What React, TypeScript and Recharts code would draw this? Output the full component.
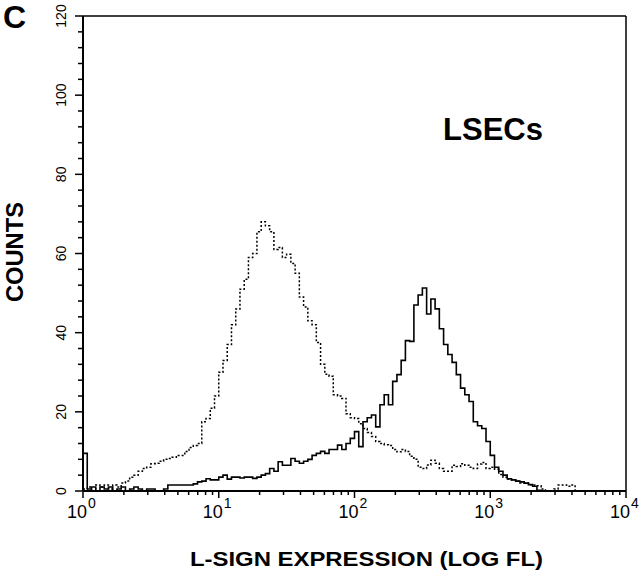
import React from 'react';
import { LineChart, Line, XAxis, YAxis, ReferenceLine } from 'recharts';

// FACS histogram: 256 channels over 4 log decades, one value read every 2 channels
const CHANNEL_STEP = 2;
const CHANNELS_PER_DECADE = 64;
const DECADE_EXPONENTS = ['0', '1', '2', '3', '4'];
const MINOR_MULTIPLIERS = [2, 3, 4, 5, 6, 7, 8, 9];
const COUNT_TICKS = [0, 4, 8, 12, 16, 20, 24, 28, 32, 36, 40, 44, 48, 52, 56, 60, 64, 68, 72, 76, 80, 84, 88, 92, 96, 100, 104, 108, 112, 116, 120];
const COUNT_LABELS = [0, 20, 40, 60, 80, 100, 120];

// isotype control (dotted)
const CONTROL = [
    0.5, 1, 0, 1.5, 1, 1.5, 0.5, 1.5, 1, 2,
    2.5, 3.5, 4, 5, 5.7, 6, 6.9, 7, 7.5, 8,
    8.2, 8.5, 9, 9, 10, 11, 11.5, 12, 17.5, 18.3,
    20.9, 24, 30, 33, 37, 42, 46, 51, 53.5, 59,
    60, 65.5, 68, 67, 65.5, 61, 61.5, 59, 59.8, 57.5,
    55, 49, 46.5, 43, 42, 37.5, 32, 29.5, 29, 24.3,
    24, 23.4, 19.5, 18.5, 18.3, 17, 15.8, 14.8, 13.8, 12.5,
    12, 11.7, 11.5, 10.5, 9.9, 10.5, 10, 8.8, 8, 6,
    5.7, 6.6, 7.8, 7, 5.7, 5, 5, 6.5, 6.2, 6.9,
    6.5, 6, 5.7, 6.8, 7.2, 5.7, 6, 5.5, 4.2, 3.5,
    3, 2.8, 2.5, 2, 2, 1.6, 1.5, 1.3, 0.5, 0,
    0, 0.5, 1.5, 1.5, 1.2, 1.5, 0, 0, 0, 0,
    0, 0, 0, 0, 0, 0, 0, 0
];

// L-SIGN staining (solid)
const LSEC = [
    9.5, 0.5, 1, 0, 1, 0.5, 1, 0, 0.5, 1,
    0, 0.5, 1, 0.5, 0, 0.5, 0.5, 0, 0, 0.5,
    1.5, 1.5, 1.5, 1.5, 1.5, 1.5, 1.8, 2.3, 2.5, 3.1,
    2.8, 2.8, 3.5, 4, 3, 3.5, 3.5, 3.3, 3.5, 3.5,
    3.2, 3.5, 4, 4.4, 5.7, 5, 7.4, 6.5, 6.5, 8.2,
    7.5, 7, 7.5, 8, 9, 9.5, 10, 9.5, 10.5, 10.5,
    11.6, 10.5, 12, 13.3, 15, 11.2, 17.5, 18.5, 19.2, 16.2,
    21.8, 24.3, 21.8, 27.7, 29.4, 33, 38, 37.8, 47, 49.5,
    51.3, 44.7, 48.5, 46, 41, 37, 34.5, 32.5, 29.4, 26,
    24.3, 22.6, 17.5, 16.5, 15.8, 12.5, 9, 6, 5, 4,
    3.1, 2.8, 2.5, 2.3, 2, 1.6, 1.2, 0.2, 0, 0,
    0, 0, 0, 0, 0, 0, 0, 0, 0, 0,
    0, 0, 0, 0, 0, 0, 0, 0
];

const data = LSEC.map((v, i) => ({ ch: i * CHANNEL_STEP, lsec: v, control: CONTROL[i] }));

const MAJOR_TICKS = DECADE_EXPONENTS.map((_, d) => d * CHANNELS_PER_DECADE);
const MINOR_TICKS = MAJOR_TICKS.slice(0, -1).flatMap(start =>
    MINOR_MULTIPLIERS.map(m => start + CHANNELS_PER_DECADE * Math.log10(m))
);
const X_TICKS = [...MAJOR_TICKS, ...MINOR_TICKS].sort((a, b) => a - b);

const FONT = 'Liberation Sans, Arial, Helvetica, sans-serif';

const XTick = (props: any) => {
    const { x, y, payload } = props;
    const idx = MAJOR_TICKS.indexOf(payload.value);
    const major = idx >= 0;
    return (
        <g>
            <line x1={x} y1={y} x2={x} y2={y + (major ? 7 : 4)} stroke="#000" strokeWidth={1.5} />
            {major && (
                <>
                    <text x={x + 4} y={y + 27} textAnchor="end" fontSize={18} fontFamily={FONT} fill="#000">10</text>
                    <text x={x + 5} y={y + 17} fontSize={14} fontFamily={FONT} fill="#000">{DECADE_EXPONENTS[idx]}</text>
                </>
            )}
        </g>
    );
};

const YTick = (props: any) => {
    const { x, y, payload } = props;
    const major = COUNT_LABELS.includes(payload.value);
    const lx = x - 17;
    return (
        <g>
            <line x1={x - (major ? 8 : 5)} y1={y} x2={x} y2={y} stroke="#000" strokeWidth={1.5} />
            {major && (
                <text x={lx} y={y} transform={`rotate(-90, ${lx}, ${y})`} textAnchor="middle"
                    fontSize={14} fontFamily={FONT} fill="#000">
                    {payload.value}
                </text>
            )}
        </g>
    );
};

export default function App() {
    return (
        <div style={{ position: 'absolute', left: 0, top: 0, width: 640, height: 581, background: '#fff' }}>
            <LineChart width={640} height={581} data={data} margin={{ top: 16, right: 14, bottom: 0, left: 0 }}>
                <XAxis
                    dataKey="ch"
                    type="number"
                    domain={[0, 256]}
                    ticks={X_TICKS}
                    interval={0}
                    height={90}
                    tickSize={0}
                    tickMargin={0}
                    tickLine={false}
                    axisLine={{ stroke: '#000', strokeWidth: 2 }}
                    tick={<XTick />}
                />
                <YAxis
                    type="number"
                    domain={[0, 120]}
                    ticks={COUNT_TICKS}
                    interval={0}
                    width={83}
                    tickSize={0}
                    tickMargin={0}
                    tickLine={false}
                    axisLine={{ stroke: '#000', strokeWidth: 2 }}
                    tick={<YTick />}
                />
                {/* frame top / right */}
                <ReferenceLine y={120} stroke="#000" strokeWidth={1.5} />
                <ReferenceLine x={256} stroke="#000" strokeWidth={1.5} />
                <Line
                    type="stepAfter"
                    dataKey="control"
                    stroke="#000"
                    strokeWidth={1.5}
                    strokeDasharray="2 2"
                    dot={false}
                    activeDot={false}
                    isAnimationActive={false}
                />
                <Line
                    type="stepAfter"
                    dataKey="lsec"
                    stroke="#000"
                    strokeWidth={1.6}
                    dot={false}
                    activeDot={false}
                    isAnimationActive={false}
                />
            </LineChart>
            <svg width={640} height={581} style={{ position: 'absolute', left: 0, top: 0, pointerEvents: 'none' }}>
                <text x={3} y={28} fontSize={32} fontWeight="bold" fontFamily={FONT} fill="#000">C</text>
                <text x={23} y={252} transform="rotate(-90, 23, 252)" textAnchor="middle" fontSize={23}
                    fontWeight="bold" fontFamily={FONT} fill="#000" textLength={100} lengthAdjust="spacingAndGlyphs">
                    COUNTS
                </text>
                <text x={443} y={140} fontSize={31} fontWeight="bold" fontFamily={FONT} fill="#000"
                    textLength={100} lengthAdjust="spacingAndGlyphs">
                    LSECs
                </text>
                <text x={190} y={566} fontSize={21} fontWeight="bold" fontFamily={FONT} fill="#000"
                    textLength={353} lengthAdjust="spacingAndGlyphs">
                    L-SIGN EXPRESSION (LOG FL)
                </text>
            </svg>
        </div>
    );
}
